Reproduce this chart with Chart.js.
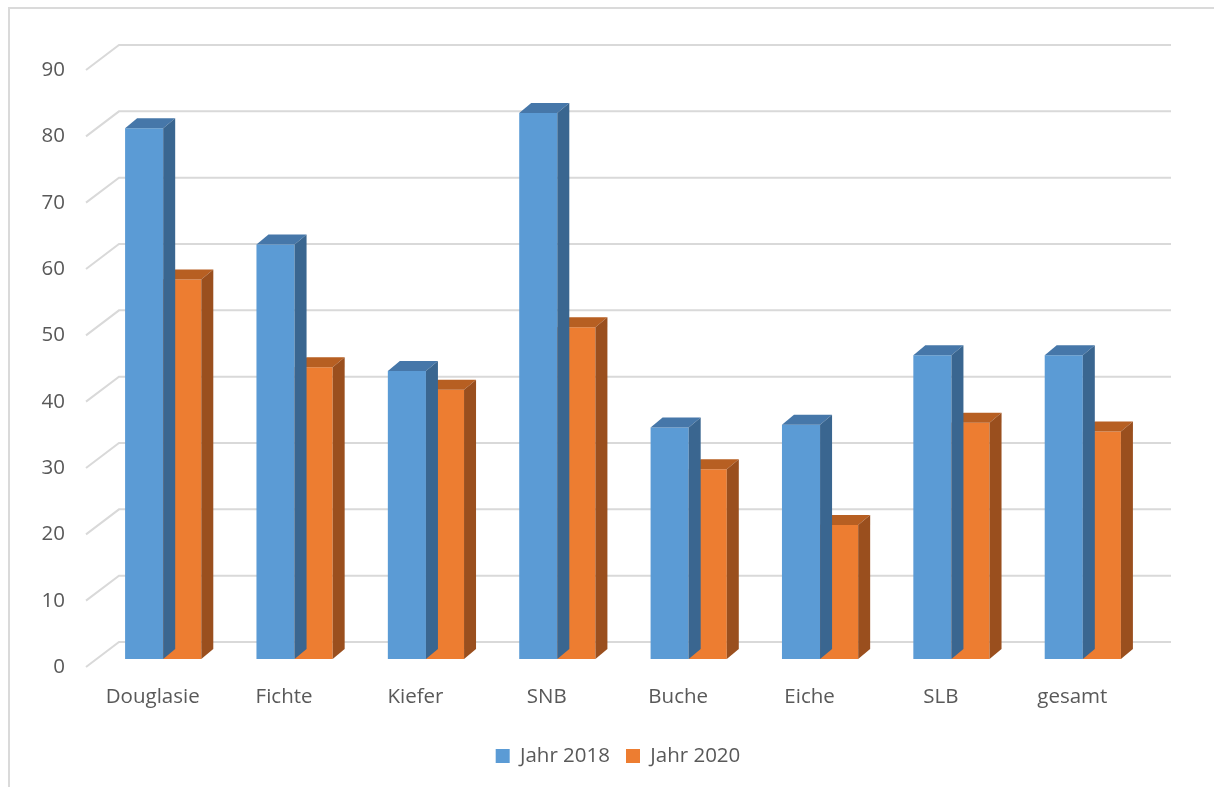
<!DOCTYPE html>
<html lang="de">
<head>
  <meta charset="UTF-8">
  <title>Jahr 2018 / Jahr 2020</title>
  <script src="https://cdn.jsdelivr.net/npm/chart.js"></script>
  <style>
    html, body { margin: 0; padding: 0; background: #fff; overflow: hidden; }
    .rahmen { position: absolute; left: 8px; top: 7px; width: 1240px; height: 820px; border: 2px solid #dadada; }
    .grafico { position: absolute; left: 0; top: 0; width: 1214px; height: 787px; }
  </style>
</head>
<body>
  <div class="rahmen"></div>
  <div class="grafico">
    <canvas id="chartBaumarten" width="1214" height="787"></canvas>
  </div>

<script>
  // Werte pro Baumart
  const baumarten = ['Douglasie', 'Fichte', 'Kiefer', 'SNB', 'Buche', 'Eiche', 'SLB', 'gesamt'];
  const werte2018 = [80.0, 62.5, 43.4, 82.3, 34.9, 35.3, 45.8, 45.8];
  const werte2020 = [57.2, 44.0, 40.6, 50.0, 28.6, 20.2, 35.6, 34.3];
  const yTicks = [0, 10, 20, 30, 40, 50, 60, 70, 80, 90];

  const schrift = { family: "'Open Sans', sans-serif", size: 20.5 };

  // Perspektive: Rückwand, Lage der Säulen, Säulentiefe
  const wand = { dx: 33, dy: -25 };
  const lage = { dx: 10.5, dy: -8 };
  const saeule = { dx: 12, dy: -10 };

  const tiefe = {
    id: 'tiefe',
    beforeDatasetsDraw(chart) {
      const { ctx, chartArea, scales: { y } } = chart;
      ctx.save();
      ctx.strokeStyle = '#d9d9d9';
      ctx.lineWidth = 2;
      y.ticks.forEach(t => {
        const py = y.getPixelForValue(t.value);
        ctx.beginPath();
        ctx.moveTo(chartArea.left - 1, py);
        ctx.lineTo(chartArea.left - 1 + wand.dx, py + wand.dy);
        ctx.lineTo(chartArea.right + wand.dx, py + wand.dy);
        ctx.stroke();
      });
      ctx.restore();

      ctx.save();
      ctx.translate(lage.dx, lage.dy);
    },
    afterDatasetDraw(chart, args) {
      const ctx = chart.ctx;
      const ds = chart.data.datasets[args.index];
      args.meta.data.forEach(bar => {
        const { x, y, base, width } = bar.getProps(['x', 'y', 'base', 'width'], true);
        const l = x - width / 2;
        const r = x + width / 2;

        ctx.fillStyle = ds.deckFarbe;
        ctx.beginPath();
        ctx.moveTo(l, y);
        ctx.lineTo(r, y);
        ctx.lineTo(r + saeule.dx, y + saeule.dy);
        ctx.lineTo(l + saeule.dx, y + saeule.dy);
        ctx.closePath();
        ctx.fill();

        ctx.fillStyle = ds.seitenFarbe;
        ctx.beginPath();
        ctx.moveTo(r, y);
        ctx.lineTo(r + saeule.dx, y + saeule.dy);
        ctx.lineTo(r + saeule.dx, base + saeule.dy);
        ctx.lineTo(r, base);
        ctx.closePath();
        ctx.fill();
      });
    },
    afterDatasetsDraw(chart) {
      chart.ctx.restore();
    }
  };

  const grafico = document.getElementById('chartBaumarten');

  new Chart(grafico, {
    type: 'bar',
    data: {
      labels: baumarten,
      datasets: [{
        label: 'Jahr 2018',
        data: werte2018,
        backgroundColor: '#5b9bd5',
        deckFarbe: '#4677a9',
        seitenFarbe: '#3a6690',
        borderWidth: 0,
        clip: false
      }, {
        label: 'Jahr 2020',
        data: werte2020,
        backgroundColor: '#ed7d31',
        deckFarbe: '#b75f22',
        seitenFarbe: '#9a4f1e',
        borderWidth: 0,
        clip: false
      }]
    },
    options: {
      responsive: false,
      animation: false,
      categoryPercentage: 0.58,
      barPercentage: 1,
      layout: {
        padding: { left: 22, right: 0, top: 70, bottom: 10.75 }
      },
      plugins: {
        tooltip: { enabled: false },
        legend: {
          position: 'bottom',
          labels: {
            boxWidth: 14,
            boxHeight: 14,
            padding: 16,
            color: '#595959',
            font: schrift
          }
        }
      },
      scales: {
        x: {
          grid: { display: false, drawTicks: false },
          border: { display: false },
          ticks: { color: '#595959', font: schrift, padding: 17.7 },
          afterFit(scale) { scale.height = 62.75; }
        },
        y: {
          min: 0,
          max: 90,
          grid: { display: false, drawTicks: false },
          border: { display: false },
          afterBuildTicks(scale) { scale.ticks = yTicks.map(v => ({ value: v })); },
          ticks: { color: '#595959', font: schrift, padding: 22 },
          afterFit(scale) { scale.width = 65; }
        },
        rechts: {
          position: 'right',
          display: true,
          grid: { display: false, drawTicks: false },
          border: { display: false },
          ticks: { display: false },
          afterFit(scale) { scale.width = 76; }
        }
      }
    },
    plugins: [tiefe]
  });
</script>
</body>
</html>
